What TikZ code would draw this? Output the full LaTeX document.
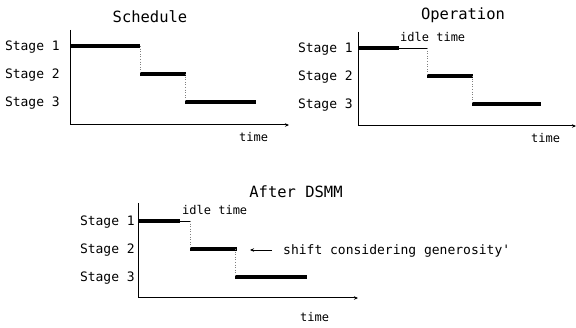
\documentclass[tikz,border=0pt]{standalone}
\usepackage{fontspec}
\newfontfamily\monofont{DejaVu Sans Mono}
\usetikzlibrary{arrows.meta}
\tikzset{
  lbl/.style={font=\monofont\fontsize{13}{13}\selectfont, inner sep=0pt, anchor=base east},
  ttl/.style={font=\monofont\fontsize{15.5}{15.5}\selectfont, inner sep=0pt, anchor=base},
  small/.style={font=\monofont\fontsize{12}{12}\selectfont, inner sep=0pt, anchor=base west},
  axis/.style={line width=1pt, -{Stealth[length=4pt,width=3.5pt]}},
  bar/.style={line width=4.5pt},
  idle/.style={line width=0.9pt},
  link/.style={gray, dotted, line width=0.6pt}
}
\begin{document}
\begin{tikzpicture}[x=1pt,y=-1pt]
\useasboundingbox (0,0) rectangle (576,328);
% ---------- Panel 1: Schedule ----------
\node[ttl] (t1) at (150,23) {Schedule};
\coordinate (o1) at (70,125);
\coordinate (y1) at (70,30);
\coordinate (x1) at (289,125);
\draw[line width=1pt] (y1) -- (o1);
\draw[axis] (o1) -- (x1);
\node[lbl] (s11) at (60,51) {Stage 1};
\node[lbl] (s12) at (60,79) {Stage 2};
\node[lbl] (s13) at (60,107) {Stage 3};
\node[small] (tm1) at (239,142) {time};
\coordinate (a1) at (70,46); \coordinate (a2) at (140,46);
\coordinate (b1) at (140,74); \coordinate (b2) at (186,74);
\coordinate (c1) at (185,102); \coordinate (c2) at (256,102);
\draw[bar] (a1) -- (a2);
\draw[bar] (b1) -- (b2);
\draw[bar] (c1) -- (c2);
\draw[link] (a2) -- (b1);
\draw[link] (b2 -| c1) -- (c1);
% ---------- Panel 2: Operation ----------
\node[ttl] (t2) at (463,20) {Operation};
\coordinate (o2) at (358,126);
\coordinate (y2) at (358,32);
\coordinate (x2) at (576,126);
\draw[line width=1pt] (y2) -- (o2);
\draw[axis] (o2) -- (x2);
\node[lbl] (s21) at (353,53) {Stage 1};
\node[lbl] (s22) at (353,81) {Stage 2};
\node[lbl] (s23) at (353,109) {Stage 3};
\node[small] (id2) at (400,42) {idle time};
\node[small] (tm2) at (531,143) {time};
\coordinate (d1) at (358,48); \coordinate (d2) at (399,48); \coordinate (d3) at (427,48);
\coordinate (e1) at (427,76); \coordinate (e2) at (473,76);
\coordinate (f1) at (472,104); \coordinate (f2) at (541,104);
\draw[bar] (d1) -- (d2);
\draw[idle] (d2) -- (d3);
\draw[bar] (e1) -- (e2);
\draw[bar] (f1) -- (f2);
\draw[link] (d3) -- (e1);
\draw[link] (e2 -| f1) -- (f1);
% ---------- Panel 3: After DSMM ----------
\node[ttl] (t3) at (296,198) {After DSMM};
\coordinate (o3) at (138,298);
\coordinate (y3) at (138,203);
\coordinate (x3) at (358,298);
\draw[line width=1pt] (y3) -- (o3);
\draw[axis] (o3) -- (x3);
\node[lbl] (s31) at (135,226) {Stage 1};
\node[lbl] (s32) at (135,254) {Stage 2};
\node[lbl] (s33) at (135,282) {Stage 3};
\node[small] (id3) at (182,215) {idle time};
\node[small] (tm3) at (300,322) {time};
\coordinate (g1) at (138,221); \coordinate (g2) at (180,221); \coordinate (g3) at (190,221);
\coordinate (h1) at (190,249); \coordinate (h2) at (237,249);
\coordinate (k1) at (235,277); \coordinate (k2) at (307,277);
\draw[bar] (g1) -- (g2);
\draw[idle] (g2) -- (g3);
\draw[bar] (h1) -- (h2);
\draw[bar] (k1) -- (k2);
\draw[link] (g3) -- (h1);
\draw[link] (h2 -| k1) -- (k1);
\node[font=\monofont\fontsize{13}{13}\selectfont, inner sep=0pt, anchor=base west] (sh) at (283,255) {shift considering generosity'};
\coordinate (ar) at (250,250);
\draw[line width=0.8pt, -{Stealth[length=4pt,width=3.5pt]}] (sh.west |- ar) ++(-11,0) coordinate (as) (as) -- (ar);
\end{tikzpicture}
\end{document}
